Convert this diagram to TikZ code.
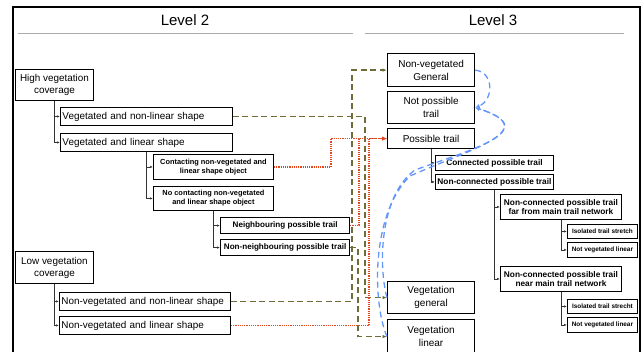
\documentclass[tikz,border=0pt]{standalone}
\usepackage{fontspec}
\setmainfont{Liberation Sans}
\usetikzlibrary{arrows.meta}

\definecolor{vegolive}{RGB}{112,108,58}
\definecolor{trailred}{RGB}{228,70,30}
\definecolor{notblue}{RGB}{100,150,250}
\definecolor{rulegray}{RGB}{170,170,170}

\tikzset{
  box/.style={draw, line width=0.9pt, fill=white, inner sep=1pt, align=center, anchor=north west},
  wh/.style 2 args={minimum width=#1pt, minimum height=#2pt},
  mainbox/.style={box, font=\fontsize{9.9}{12}\selectfont},
  shapebox/.style={mainbox, inner xsep=2pt, text width=#1pt, align=left},
  bigbox/.style={box, line width=1.2pt, font=\fontsize{10}{13}\selectfont},
  objbox/.style={box, font=\bfseries\fontsize{7.4}{8.8}\selectfont},
  trailbox/.style={box, line width=1.2pt, font=\bfseries\fontsize{8.1}{9.5}\selectfont},
  subbox/.style={box, font=\bfseries\fontsize{8.3}{9.6}\selectfont},
  leafbox/.style={box, font=\bfseries\fontsize{6.4}{7.5}\selectfont},
  branch/.style={draw=black!80, line width=0.6pt, -{Latex[length=3pt,width=2.4pt]}},
  vegline/.style={draw=vegolive, line width=1.3pt, dash pattern=on 6pt off 3.5pt, -{Latex[length=4.5pt,width=3.5pt]}},
  trailline/.style={draw=trailred, line width=1.2pt, dash pattern=on 1.2pt off 1pt, -{Latex[length=5pt,width=4pt]}},
  notline/.style={draw=notblue, line width=1.3pt, dash pattern=on 6pt off 4pt, -{Latex[length=4.5pt,width=4pt]}},
}

\begin{document}
\begin{tikzpicture}[x=1pt, y=-1pt]
  \useasboundingbox (0,0) rectangle (643,352);

  % frame and level headings
  \draw[line width=1.5pt] (13,352) -- (13,7) -- (640,7) -- (640,352);
  \node[font=\fontsize{15}{18}\selectfont] (lvtwo) at (185,20) {Level 2};
  \node[font=\fontsize{15}{18}\selectfont] (lvthree) at (493,20) {Level 3};
  \draw[rulegray, line width=1pt] (18,34) -- (353,34);
  \draw[rulegray, line width=1pt] (365,34) -- (624,34);

  % level 2
  \node[mainbox, wh={78}{31}] (hveg) at (15,69) {High vegetation\\coverage};
  \node[shapebox=168, wh={172}{18}] (vnl) at (60,107) {Vegetated and non-linear shape};
  \node[shapebox=168, wh={172}{18}] (vl) at (60,133) {Vegetated and linear shape};
  \node[objbox, wh={120}{25}] (cont) at (153,154) {Contacting non-vegetated and\\linear shape object};
  \node[objbox, wh={120}{24}] (nocont) at (153,186) {No contacting non-vegetated\\and linear shape object};
  \node[trailbox, wh={129}{16}] (neigh) at (220,217) {Neighbouring possible trail};
  \node[trailbox, wh={129}{16}] (nonneigh) at (220,239) {Non-neighbouring possible trail};
  \node[mainbox, wh={78}{32}] (lveg) at (15,251) {Low vegetation\\coverage};
  \node[shapebox=167, wh={171}{18}] (nvnl) at (59,292) {Non-vegetated and non-linear shape};
  \node[shapebox=167, wh={171}{18}] (nvl) at (59,316) {Non-vegetated and linear shape};

  % level 3
  \node[bigbox, wh={87}{33}] (nvg) at (387,53) {Non-vegetated\\General};
  \node[bigbox, wh={87}{32}] (notp) at (387,91) {Not possible\\trail};
  \node[bigbox, wh={87}{20}] (poss) at (387,128) {Possible trail};
  \node[subbox, wh={118}{15}] (conn) at (435,155) {Connected possible trail};
  \node[subbox, wh={118}{15}] (nconn) at (435,174) {Non-connected possible trail};
  \node[subbox, wh={121}{25}] (far) at (500,194) {Non-connected possible trail\\far from main trail network};
  \node[leafbox, wh={70}{14}] (isofar) at (567,224) {Isolated trail stretch};
  \node[leafbox, wh={70}{15}] (linfar) at (567,242) {Not vegetated linear};
  \node[subbox, wh={121}{25}] (near) at (500,266) {Non-connected possible trail\\near main trail network};
  \node[leafbox, wh={70}{14}] (isonear) at (567,299) {Isolated trail strecht};
  \node[leafbox, wh={70}{15}] (linnear) at (567,317) {Not vegetated linear};
  \node[bigbox, wh={87}{32}] (vgen) at (387,281) {Vegetation\\general};
  \node[bigbox, wh={87}{34}] (vlin) at (387,319) {Vegetation\\linear};

  % tree branches
  \foreach \up/\down in {hveg/vnl, hveg/vl, vl/cont, vl/nocont, nocont/neigh, nocont/nonneigh,
      lveg/nvnl, lveg/nvl, poss/conn, poss/nconn, nconn/far, nconn/near,
      far/isofar, far/linfar, near/isonear, near/linnear}
    \draw[branch] (\up.south) |- (\down.west);

  % level 2 -> level 3
  \draw[vegline] (vnl.east) -| ([xshift=-22pt]vgen.west) -- (vgen.west);
  \draw[vegline] (nvnl.east) -| ([xshift=-35pt]nvg.west) -- (nvg.west);
  \draw[vegline] (nonneigh.east) -| ([xshift=-29pt]vlin.west) -- (vlin.west);
  \draw[trailline] (cont.east) -| ([xshift=-56pt]poss.west) -- (poss.west);
  \draw[trailline] (neigh.east) -| ([xshift=-28pt]poss.west) -- (poss.west);
  \draw[trailline] (nvl.east) -| ([xshift=-18pt]poss.west) -- (poss.west);

  % not possible trail
  \draw[notline] (nvg.east) .. controls (494,72) and (494,100) .. (notp.east);
  \draw[notline] (vgen.west) .. controls (378,265) and (380,195) .. (415,170)
    .. controls (470,150) and (545,130) .. (notp.east);
  \draw[notline] (vlin.west) .. controls (373,305) and (370,215) .. (410,176)
    .. controls (468,150) and (545,130) .. (notp.east);
\end{tikzpicture}
\end{document}
